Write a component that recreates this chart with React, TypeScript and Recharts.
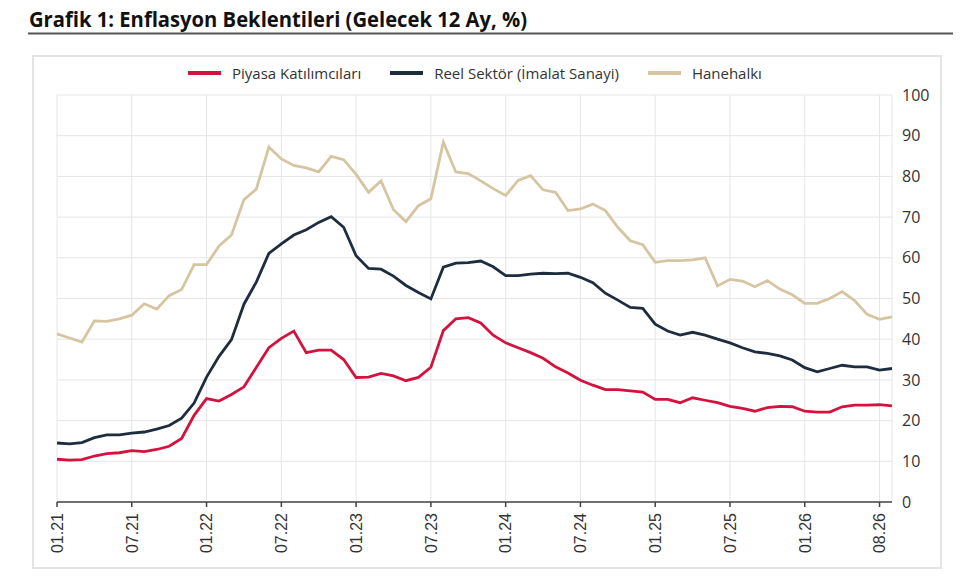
import { LineChart, Line, XAxis, YAxis, CartesianGrid } from "recharts";

// monthly survey points, 01.21 - 08.26
const months = [
  "01.21", "02.21", "03.21", "04.21", "05.21", "06.21", "07.21", "08.21", "09.21", "10.21", "11.21", "12.21",
  "01.22", "02.22", "03.22", "04.22", "05.22", "06.22", "07.22", "08.22", "09.22", "10.22", "11.22", "12.22",
  "01.23", "02.23", "03.23", "04.23", "05.23", "06.23", "07.23", "08.23", "09.23", "10.23", "11.23", "12.23",
  "01.24", "02.24", "03.24", "04.24", "05.24", "06.24", "07.24", "08.24", "09.24", "10.24", "11.24", "12.24",
  "01.25", "02.25", "03.25", "04.25", "05.25", "06.25", "07.25", "08.25", "09.25", "10.25", "11.25", "12.25",
  "01.26", "02.26", "03.26", "04.26", "05.26", "06.26", "07.26", "08.26",
];

const piyasa = [
  10.5, 10.3, 10.4, 11.3, 11.9, 12.1, 12.6, 12.4, 12.9, 13.7, 15.6, 21.3,
  25.4, 24.8, 26.4, 28.3, 33.1, 37.9, 40.2, 42.0, 36.7, 37.3, 37.3, 35.0,
  30.6, 30.7, 31.6, 31.0, 29.8, 30.6, 33.1, 42.1, 45.0, 45.3, 44.0, 41.0,
  39.1, 37.9, 36.7, 35.3, 33.2, 31.7, 29.9, 28.7, 27.6, 27.6, 27.3, 27.0,
  25.2, 25.2, 24.4, 25.6, 25.0, 24.4, 23.5, 23.0, 22.3, 23.2, 23.5, 23.4,
  22.3, 22.1, 22.1, 23.4, 23.8, 23.8, 23.9, 23.6,
];

const reelSektor = [
  14.5, 14.3, 14.6, 15.8, 16.5, 16.5, 16.9, 17.2, 17.9, 18.8, 20.6, 24.3,
  30.7, 35.8, 39.9, 48.6, 54.1, 61.1, 63.4, 65.6, 66.9, 68.7, 70.1, 67.5,
  60.5, 57.4, 57.2, 55.5, 53.2, 51.5, 49.9, 57.7, 58.7, 58.8, 59.2, 57.8,
  55.6, 55.6, 56.0, 56.2, 56.1, 56.2, 55.2, 53.9, 51.3, 49.6, 47.8, 47.6,
  43.7, 42.0, 41.0, 41.7, 41.0, 40.0, 39.1, 37.9, 36.9, 36.5, 35.9, 34.9,
  33.0, 32.0, 32.8, 33.6, 33.2, 33.2, 32.4, 32.8,
];

const hanehalki = [
  41.3, 40.3, 39.3, 44.5, 44.4, 45.0, 45.9, 48.7, 47.4, 50.7, 52.2, 58.3,
  58.3, 62.9, 65.6, 74.3, 76.9, 87.2, 84.3, 82.7, 82.1, 81.1, 84.9, 84.1,
  80.5, 76.1, 78.9, 71.8, 68.9, 72.8, 74.5, 88.4, 81.1, 80.7, 78.9, 77.0,
  75.3, 79.0, 80.2, 76.7, 76.1, 71.6, 72.0, 73.2, 71.6, 67.5, 64.2, 63.2,
  58.9, 59.3, 59.3, 59.5, 60.0, 53.1, 54.7, 54.3, 52.9, 54.4, 52.3, 50.9,
  48.8, 48.8, 50.0, 51.7, 49.5, 46.1, 44.9, 45.5,
];

const xTicks = [0, 6, 12, 18, 24, 30, 36, 42, 48, 54, 60, 66];
const xTickLabels = ["01.21", "07.21", "01.22", "07.22", "01.23", "07.23", "01.24", "07.24", "01.25", "07.25", "01.26", "08.26"];
const yTicks = [0, 10, 20, 30, 40, 50, 60, 70, 80, 90, 100];

const series = [
  { key: "piyasa", name: "Piyasa Katılımcıları", color: "#d3123e" },
  { key: "reel", name: "Reel Sektör (İmalat Sanayi)", color: "#1e2d3d" },
  { key: "hane", name: "Hanehalkı", color: "#d5c5a1" },
];

const data = months.map((m, i) => ({
  i,
  month: m,
  piyasa: piyasa[i],
  reel: reelSektor[i],
  hane: hanehalki[i],
}));

const RotatedTick = ({ x, y, payload }: any) => {
  const idx = xTicks.indexOf(payload.value);
  return (
    <text
      x={x}
      y={y + 4}
      transform={`rotate(-90, ${x}, ${y + 4})`}
      textAnchor="end"
      dy="0.36em"
      fill="#333"
      fontSize={16}
      fontFamily="Liberation Sans, Arial, sans-serif"
    >
      {xTickLabels[idx]}
    </text>
  );
};

export default function App() {
  return (
    <div style={{ position: "absolute", left: 0, top: 0, width: 972, height: 587, background: "#fff" }}>
      {/* Title + rule */}
      <svg width={972} height={40} style={{ position: "absolute", left: 0, top: 0 }}>
        <text
          x={29}
          y={27}
          fontFamily="Open Sans"
          fontWeight={700}
          fontSize={21}
          fill="#111"
          textLength={498}
          lengthAdjust="spacingAndGlyphs"
        >
          Grafik 1: Enflasyon Beklentileri (Gelecek 12 Ay, %)
        </text>
        <line x1={28} x2={953} y1={33.5} y2={33.5} stroke="#555" strokeWidth={2} />
      </svg>

      {/* Frame */}
      <div
        style={{
          position: "absolute",
          left: 32,
          top: 55,
          width: 906,
          height: 510,
          border: "2px solid #e4e4e4",
        }}
      />

      {/* Legend */}
      <div
        style={{
          position: "absolute",
          left: 188,
          top: 63,
          display: "flex",
          alignItems: "center",
          fontFamily: "Open Sans",
          fontSize: 15,
          color: "#333",
        }}
      >
        {series.map((s) => (
          <div key={s.key} style={{ display: "flex", alignItems: "center", marginRight: 29 }}>
            <div style={{ width: 33, height: 4, background: s.color, marginRight: 11 }} />
            <span>{s.name}</span>
          </div>
        ))}
      </div>

      <LineChart
        width={972}
        height={587}
        data={data}
        margin={{ top: 95, right: 40, bottom: 25, left: 57 }}
        style={{ position: "absolute", left: 0, top: 0 }}
      >
        <CartesianGrid stroke="#e6e6e6" strokeWidth={1} />
        <XAxis
          dataKey="i"
          type="number"
          domain={[0, 67]}
          ticks={xTicks}
          interval={0}
          height={60}
          axisLine={{ stroke: "#444", strokeWidth: 1.5 }}
          tickLine={{ stroke: "#444", strokeWidth: 1.5 }}
          tickSize={5}
          tick={<RotatedTick />}
        />
        <YAxis
          orientation="right"
          domain={[0, 100]}
          ticks={yTicks}
          interval={0}
          width={40}
          axisLine={false}
          tickLine={false}
          tickMargin={4}
          tick={{ fill: "#333", fontSize: 16, fontFamily: "Open Sans" }}
        />
        {series.map((s) => (
          <Line
            key={s.key}
            type="linear"
            dataKey={s.key}
            name={s.name}
            stroke={s.color}
            strokeWidth={2.8}
            dot={false}
            isAnimationActive={false}
          />
        ))}
      </LineChart>
    </div>
  );
}
